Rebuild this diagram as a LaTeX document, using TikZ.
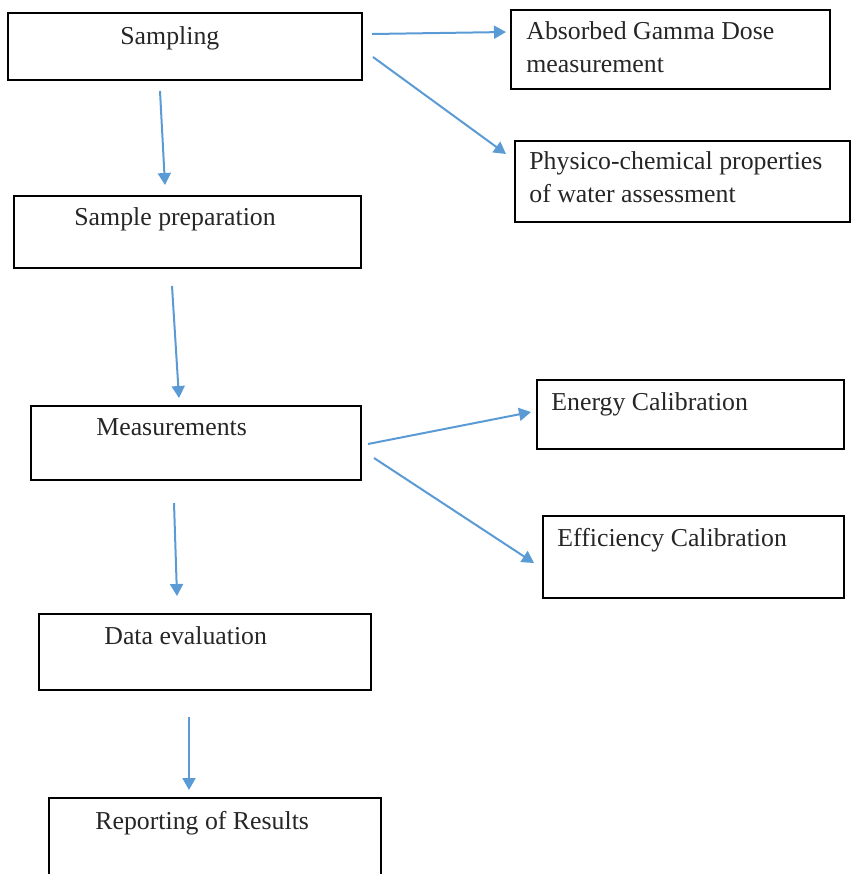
\documentclass[tikz,border=0pt]{standalone}
\usepackage{fontspec}
\setmainfont{Liberation Serif}
\usetikzlibrary{arrows.meta,fit,positioning}
\definecolor{arrowblue}{RGB}{91,155,213}

\begin{document}
\begin{tikzpicture}[x=0.5pt, y=-0.5pt,
  box/.style={draw, line width=1pt, inner sep=0pt},
  txt/.style={anchor=north west, inner sep=0pt, align=left, text=black!85, font=\fontsize{12.9}{16.5}\selectfont},
  arr/.style={draw=arrowblue, line width=1pt, -{Triangle[width=6.5pt,length=6pt]}}]
\useasboundingbox (0,0) rectangle (852,874);
\clip (0,0) rectangle (852,874);
% boxes
\node[box, fit={(8,13) (362,80)}] (smp) {};
\node[box, fit={(511,10) (830,89)}] (agd) {};
\node[box, fit={(515,141) (850,222)}] (phy) {};
\node[box, fit={(14,196) (361,268)}] (prep) {};
\node[box, fit={(31,406) (361,480)}] (meas) {};
\node[box, fit={(537,380) (844,449)}] (ecal) {};
\node[box, fit={(543,516) (844,598)}] (effc) {};
\node[box, fit={(39,614) (371,690)}] (deval) {};
\node[box, fit={(49,798) (381,920)}] (rep) {};
% texts
\node[txt] (smp-t) at ([shift={(113,14)}]smp.north west) {Sampling};
\node[txt] (agd-t) at ([shift={(16,12)}]agd.north west) {Absorbed Gamma Dose\\measurement};
\node[txt] (phy-t) at ([shift={(15,11)}]phy.north west) {Physico-chemical properties\\of water assessment};
\node[txt] (prep-t) at ([shift={(61,12)}]prep.north west) {Sample preparation};
\node[txt] (meas-t) at ([shift={(66,13)}]meas.north west) {Measurements};
\node[txt] (ecal-t) at ([shift={(15,13)}]ecal.north west) {Energy Calibration};
\node[txt] (effc-t) at ([shift={(15,13)}]effc.north west) {Efficiency Calibration};
\node[txt] (deval-t) at ([shift={(66,13)}]deval.north west) {Data evaluation};
\node[txt] (rep-t) at ([shift={(47,14)}]rep.north west) {Reporting of Results};
% arrows
\draw[arr] ([shift={(9,-12.5)}]smp.east) -- ([shift={(-4,-17.5)}]agd.west);
\draw[arr] ([shift={(10,10.5)}]smp.east) -- ([shift={(-8,14)}]phy.north west);
\draw[arr] ([shift={(-25,10)}]smp.south) -- ([shift={(-22.5,-10)}]prep.north);
\draw[arr] ([shift={(-15.5,17)}]prep.south) -- ([shift={(-17,-7)}]meas.north);
\draw[arr] ([shift={(6,1)}]meas.east) -- ([shift={(-5,-2.5)}]ecal.west);
\draw[arr] ([shift={(12,15)}]meas.east) -- ([shift={(-8,6)}]effc.west);
\draw[arr] ([shift={(-22,22)}]meas.south) -- ([shift={(-28,-17)}]deval.north);
\draw[arr] ([shift={(-16,26)}]deval.south) -- ([shift={(-26,-7)}]rep.north);
\end{tikzpicture}
\end{document}
